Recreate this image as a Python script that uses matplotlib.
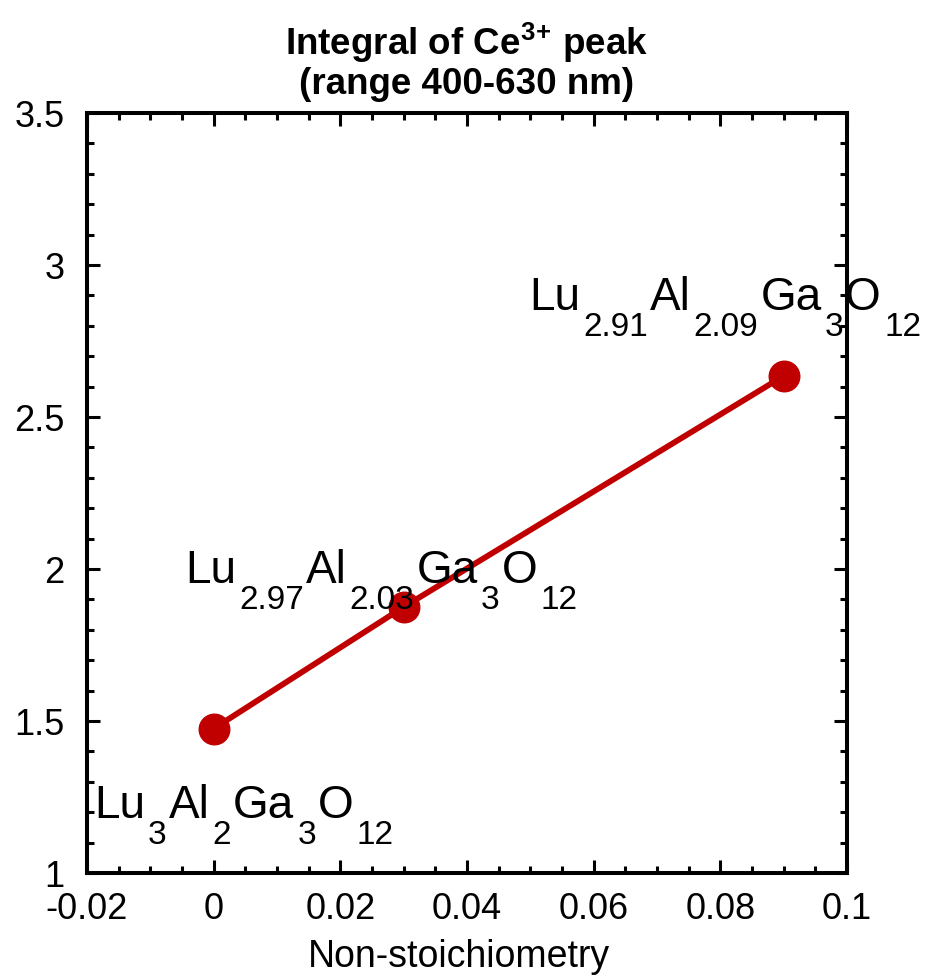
import matplotlib
matplotlib.use("Agg")
import matplotlib.pyplot as plt
from matplotlib.ticker import MultipleLocator
from matplotlib.transforms import offset_copy

x_vals = [0.0, 0.03, 0.09]
y_vals = [1.475, 1.875, 2.635]
labels = [
    [("Lu", False), ("3", True), ("Al", False), ("2", True), ("Ga", False), ("3", True), ("O", False), ("12", True)],
    [("Lu", False), ("2.97", True), ("Al", False), ("2.03", True), ("Ga", False), ("3", True), ("O", False), ("12", True)],
    [("Lu", False), ("2.91", True), ("Al", False), ("2.09", True), ("Ga", False), ("3", True), ("O", False), ("12", True)],
]
label_pos = [(-0.0192, 1.18), (-0.0048, 1.954), (0.0495, 2.852)]
title_text = r"Integral of Ce$^{\mathbf{3}}$$^{\mathbf{+}}$ peak" + "\n(range 400-630 nm)"
xlabel = "Non-stoichiometry"
xtick_vals = [-0.02, 0, 0.02, 0.04, 0.06, 0.08, 0.1]
xtick_labels = ["-0.02", "0", "0.02", "0.04", "0.06", "0.08", "0.1"]
ytick_vals = [1, 1.5, 2, 2.5, 3, 3.5]
ytick_labels = ["1", "1.5", "2", "2.5", "3", "3.5"]

plt.rcParams['font.family'] = ['Liberation Sans', 'DejaVu Sans']
plt.rcParams['mathtext.fontset'] = 'custom'
plt.rcParams['mathtext.rm'] = 'Liberation Sans'
plt.rcParams['mathtext.bf'] = 'Liberation Sans:bold'

fig = plt.figure(figsize=(9.25, 9.76), dpi=100)
ax = fig.add_axes([0.094, 0.1055, 0.8216, 0.7787])

red = "#c00000"
ax.plot(x_vals, y_vals, color=red, lw=4.2, marker="o", markersize=22, zorder=3)

ax.set_xlim(-0.02, 0.1)
ax.set_ylim(1, 3.5)
ax.xaxis.set_minor_locator(MultipleLocator(0.005))
ax.yaxis.set_minor_locator(MultipleLocator(0.1))
ax.set_xticks(xtick_vals)
ax.set_xticklabels(xtick_labels)
ax.set_yticks(ytick_vals)
ax.set_yticklabels(ytick_labels)
ax.tick_params(which="both", direction="in", top=True, right=True, width=2.2, labelsize=26)
ax.tick_params(axis="x", pad=14)
ax.tick_params(axis="y", pad=16)
ax.tick_params(which="major", length=9.5)
ax.tick_params(which="minor", length=5)
for s in ax.spines.values():
    s.set_linewidth(2.9)

ax.set_xlabel(xlabel, fontsize=27)
ax.xaxis.set_label_coords(0.489, -0.124)
ax.xaxis.label.set_va("baseline")
ax.set_title(title_text, fontsize=26.5, fontweight="bold", pad=14, linespacing=1.05)

fig.canvas.draw()
renderer = fig.canvas.get_renderer()
for pieces, (lx, ly) in zip(labels, label_pos):
    base_x = ax.transData.transform((lx, ly))[0]
    dx = 0.0
    for txt, sub in pieces:
        if sub:
            tr = offset_copy(ax.transData, fig=fig, x=dx + 3, y=-26, units='dots')
            t = ax.text(lx, ly, txt, fontsize=24, transform=tr, va="baseline", ha="left")
        else:
            tr = offset_copy(ax.transData, fig=fig, x=dx + 2, y=0, units='dots')
            t = ax.text(lx, ly, txt, fontsize=33, transform=tr, va="baseline", ha="left")
        bb = t.get_window_extent(renderer)
        dx = bb.x1 - base_x

fig.savefig("out.png", dpi=100)
